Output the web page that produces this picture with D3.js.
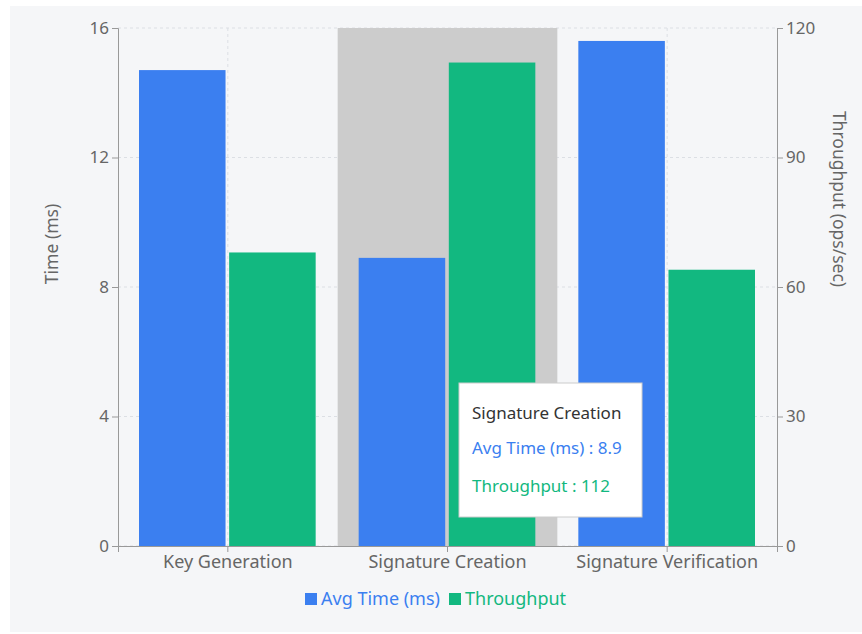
<!DOCTYPE html>
<html>
<head>
<meta charset="utf-8">
<script src="https://cdn.jsdelivr.net/npm/d3@7"></script>
<style>
  body { margin: 0; background: #fff; }
  svg { display: block; font-family: "Noto Sans", "Open Sans", sans-serif; }
</style>
</head>
<body>
<svg id="canvas" width="862" height="634"></svg>
<script>
// data
var categories = ['Key Generation', 'Signature Creation', 'Signature Verification'];
var avgTime = [14.7, 8.9, 15.6];
var throughput = [68, 112, 64];
var timeTicks = [0, 4, 8, 12, 16];
var tputTicks = [0, 30, 60, 90, 120];
var seriesNames = ['Avg Time (ms)', 'Throughput'];
var seriesColors = ['#3b7ff0', '#12b880'];
var hovered = 1;

var svg = d3.select('#canvas');
var margin = { left: 118, right: 85, top: 28, bottom: 88 };
var W = 862, H = 634;
var plotW = W - margin.left - margin.right, plotH = H - margin.top - margin.bottom;

// background panel
svg.append('rect').attr('x', 10).attr('y', 6).attr('width', W - 10).attr('height', 626).attr('fill', '#f5f6f8');

var g = svg.append('g').attr('transform', 'translate(' + margin.left + ',' + margin.top + ')');

var x0 = d3.scaleBand().domain(categories).range([0, plotW]).paddingInner(0).paddingOuter(0);
var x1 = d3.scaleBand().domain(seriesNames).range([21, x0.bandwidth() - 22]).paddingInner(0.04);
var yL = d3.scaleLinear().domain([0, 16]).range([plotH, 0]);
var yR = d3.scaleLinear().domain([0, 120]).range([plotH, 0]);

// grid
g.selectAll('.hgrid').data(timeTicks).enter().append('line')
  .attr('x1', 0).attr('x2', plotW)
  .attr('y1', function(d) { return yL(d); }).attr('y2', function(d) { return yL(d); })
  .attr('stroke', '#dcdfe4').attr('stroke-dasharray', '3 3');
g.selectAll('.vgrid').data(categories).enter().append('line')
  .attr('x1', function(d) { return x0(d) + x0.bandwidth() / 2; })
  .attr('x2', function(d) { return x0(d) + x0.bandwidth() / 2; })
  .attr('y1', 0).attr('y2', plotH)
  .attr('stroke', '#dcdfe4').attr('stroke-dasharray', '3 3');

// hover cursor
g.append('rect')
  .attr('x', x0(categories[hovered])).attr('y', 0)
  .attr('width', x0.bandwidth()).attr('height', plotH)
  .attr('fill', '#cccccc');

// bars
var groups = g.selectAll('.cat').data(categories).enter().append('g')
  .attr('transform', function(d) { return 'translate(' + x0(d) + ',0)'; });
groups.append('rect')
  .attr('x', x1(seriesNames[0])).attr('width', x1.bandwidth())
  .attr('y', function(d, i) { return yL(avgTime[i]); })
  .attr('height', function(d, i) { return plotH - yL(avgTime[i]); })
  .attr('fill', seriesColors[0]);
groups.append('rect')
  .attr('x', x1(seriesNames[1])).attr('width', x1.bandwidth())
  .attr('y', function(d, i) { return yR(throughput[i]); })
  .attr('height', function(d, i) { return plotH - yR(throughput[i]); })
  .attr('fill', seriesColors[1]);

// axes
function styleAxis(sel, size) {
  sel.selectAll('path, line').attr('stroke', '#999');
  sel.selectAll('text').attr('fill', '#666').style('font-size', size).style('font-family', '"Noto Sans", sans-serif');
}
var xAxis = g.append('g').attr('transform', 'translate(0,' + plotH + ')')
  .call(d3.axisBottom(x0).tickSizeOuter(0).tickSize(6).tickPadding(3));
styleAxis(xAxis, '18px');

var yAxisL = g.append('g').call(d3.axisLeft(yL).tickValues(timeTicks).tickSize(6).tickSizeOuter(6).tickPadding(3));
styleAxis(yAxisL, '17px');
var yAxisR = g.append('g').attr('transform', 'translate(' + plotW + ',0)')
  .call(d3.axisRight(yR).tickValues(tputTicks).tickSize(6).tickSizeOuter(6).tickPadding(3));
styleAxis(yAxisR, '17px');

// axis titles
svg.append('text').attr('transform', 'translate(58,244) rotate(-90)')
  .attr('text-anchor', 'middle').attr('fill', '#666').style('font-size', '17.5px')
  .text('Time (ms)');
svg.append('text').attr('transform', 'translate(833,199) rotate(90)')
  .attr('text-anchor', 'middle').attr('fill', '#666').style('font-size', '17.5px')
  .text('Throughput (ops/sec)');

// legend
var legend = svg.append('g').attr('transform', 'translate(305,599)');
var lx = [0, 144];
seriesNames.forEach(function(name, i) {
  var item = legend.append('g').attr('transform', 'translate(' + lx[i] + ',0)');
  item.append('rect').attr('x', 0).attr('y', -6).attr('width', 12).attr('height', 12).attr('fill', seriesColors[i]);
  item.append('text').attr('x', 16).attr('y', 6).attr('fill', seriesColors[i]).style('font-size', '18px').text(name);
});

// tooltip
var tip = svg.append('g').attr('transform', 'translate(459,383)');
tip.append('rect').attr('width', 183).attr('height', 134).attr('fill', '#fff').attr('stroke', '#ccc');
tip.append('text').attr('x', 13).attr('y', 36).attr('fill', '#333').style('font-size', '17px').text(categories[hovered]);
tip.append('text').attr('x', 13).attr('y', 71).attr('fill', seriesColors[0]).style('font-size', '17px')
  .text(seriesNames[0] + ' : ' + avgTime[hovered]);
tip.append('text').attr('x', 13).attr('y', 109).attr('fill', seriesColors[1]).style('font-size', '17px')
  .text(seriesNames[1] + ' : ' + throughput[hovered]);
</script>
</body>
</html>
